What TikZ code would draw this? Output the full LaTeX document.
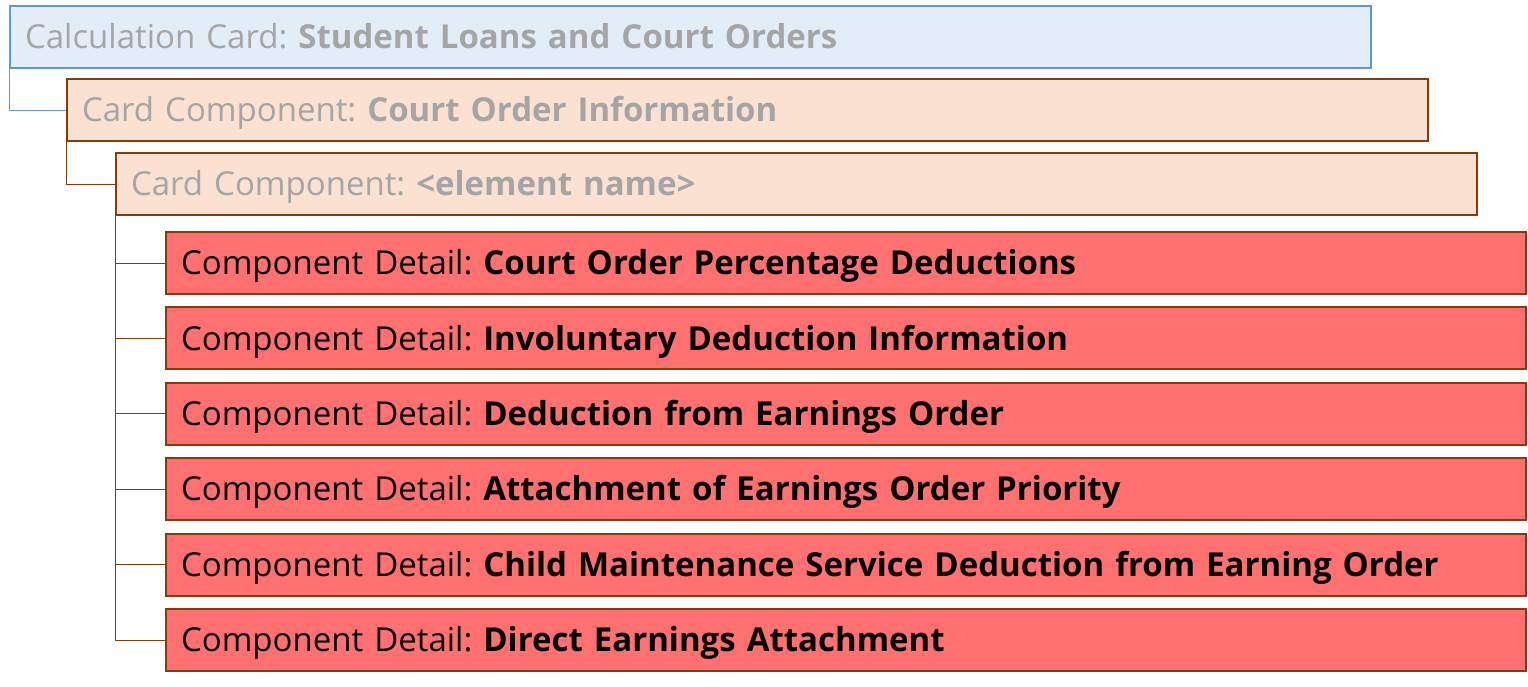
\documentclass[tikz,border=0pt]{standalone}
\usepackage{fontspec}
\setmainfont{Open Sans}
\definecolor{cardblue}{HTML}{5B9BD5}
\definecolor{cardbluefill}{HTML}{E2EDF8}
\definecolor{compbrown}{HTML}{843C0C}
\definecolor{compfill}{HTML}{FAE1D2}
\definecolor{detailfill}{HTML}{FF7070}
\definecolor{labelgray}{HTML}{A5A5A5}
\frenchspacing
\begin{document}
\begin{tikzpicture}[x=1pt,y=-1pt,
    box/.style={anchor=north west, minimum height=62pt, inner xsep=15pt,
      inner ysep=0pt, text height=23.5pt, text depth=0pt, align=left,
      font=\fontsize{33}{38}\selectfont, line width=2pt},
    calccard/.style={box, draw=cardblue, fill=cardbluefill, text=labelgray, text width=1331pt},
    cardcomp/.style={box, draw=compbrown, fill=compfill, text=labelgray, text width=1331pt},
    compdetail/.style={box, draw=compbrown, fill=detailfill, text=black, text width=1330pt},
    link/.style={line width=1pt}]
  \useasboundingbox (0,0) rectangle (1528,686);
  \node[calccard] (calc) at (9,5) {Calculation Card: \textbf{Student Loans and Court Orders}};
  \node[cardcomp] (court) at (66,78) {Card Component: \textbf{Court Order Information}};
  \node[cardcomp] (elem) at (115,152) {Card Component: \textbf{<element name>}};
  \draw[link, cardblue] (calc.south west) |- (court.west);
  \draw[link, compbrown] (court.south west) |- (elem.west);
  \foreach \name [count=\i from 0] in {Court Order Percentage Deductions,
      Involuntary Deduction Information, Deduction from Earnings Order,
      Attachment of Earnings Order Priority,
      Child Maintenance Service Deduction from Earning Order,
      Direct Earnings Attachment} {
    \node[compdetail] (detail\i) at (165,231+75.4*\i) {Component Detail: \textbf{\name}};
    \draw[link, compbrown] (elem.south west) |- (detail\i.west);
  }
\end{tikzpicture}
\end{document}
